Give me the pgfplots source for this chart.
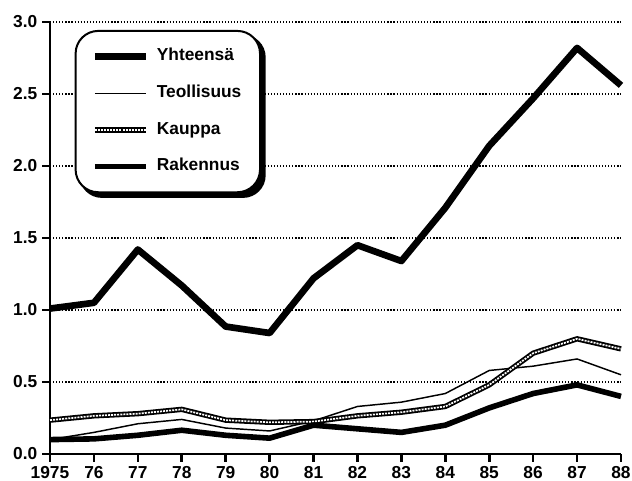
\documentclass[border=0pt]{standalone}
\usepackage{fontspec}
\setmainfont{Liberation Sans}
\usepackage{pgfplots}
\pgfplotsset{compat=1.18}
\usepackage{pgfplotstable}
\usetikzlibrary{calc}
\pgfdeclarelayer{background}
\pgfsetlayers{background,main}

\pgfplotstableread{
year yht teol kaup rak
1975 1.01 0.10 0.235 0.10
1976 1.05 0.15 0.265 0.105
1977 1.42 0.21 0.28 0.13
1978 1.17 0.24 0.31 0.165
1979 0.885 0.18 0.235 0.13
1980 0.84 0.16 0.22 0.11
1981 1.22 0.23 0.225 0.20
1982 1.45 0.33 0.265 0.175
1983 1.34 0.36 0.29 0.15
1984 1.71 0.42 0.33 0.20
1985 2.14 0.58 0.48 0.32
1986 2.47 0.61 0.70 0.42
1987 2.82 0.66 0.80 0.48
1988 2.56 0.55 0.73 0.40
}\data

\begin{document}
\begin{tikzpicture}
\begin{axis}[
  name=ax,
  scale only axis,
  width=428.25pt, height=324pt,
  xmin=1975, xmax=1988, ymin=0, ymax=3,
  axis lines=left,
  axis line style={-, line width=2pt},
  xtick={1975,...,1988},
  xticklabels={1975,76,77,78,79,80,81,82,83,84,85,86,87,88},
  ytick={0,0.5,...,3.0},
  yticklabel style={/pgf/number format/.cd, fixed, fixed zerofill, precision=1},
  /pgf/number format/assume math mode=true,
  tick align=outside,
  major tick length=6pt,
  tick style={line width=2pt, black},
  ticklabel style={font=\fontsize{13}{15}\selectfont\bfseries},
  ymajorgrids,
  grid style={black, line width=0.9pt, dash pattern=on 0.9pt off 1.4pt},
  clip=false,
  legend style={
    name=leg,
    at={(axis cs:1975.56,2.945)}, anchor=north west,
    draw=black, line width=1.5pt, rounded corners=17pt,
    fill=white,
    inner xsep=12pt, inner ysep=11pt,
    font=\fontsize{13}{15}\selectfont\bfseries,
    nodes={inner sep=2pt, text height=9.5pt, text depth=3pt},
    row sep=11pt, column sep=4pt,
  },
  legend cell align=left,
  legend image code/.code={\draw[#1] (0pt,0pt) -- (38pt,0pt);},
]
\addplot[black, line width=5pt, line join=round] table[x=year,y=yht] {\data};
\addlegendentry{Yhteensä}
\addplot[black, line width=1.1pt, line join=round] table[x=year,y=teol] {\data};
\addlegendentry{Teollisuus}
\addplot[black, line width=4pt, line join=round,
  postaction={draw, white, line width=1.3pt, dash pattern=on 1.5pt off 0.8pt}] table[x=year,y=kaup] {\data};
\addlegendentry{Kauppa}
\addplot[black, line width=4.2pt, line join=round] table[x=year,y=rak] {\data};
\addlegendentry{Rakennus}
\end{axis}
\begin{pgfonlayer}{background}
\fill[black, rounded corners=17pt] ($(leg.south west)+(3.5pt,-3.5pt)$) rectangle ($(leg.north east)+(3.5pt,-3.5pt)$);
\end{pgfonlayer}
\pgfresetboundingbox
\path[use as bounding box] ($(ax.south west)+(-37.5pt,-20.25pt)$) rectangle ($(ax.north east)+(8.25pt,16.5pt)$);
\end{tikzpicture}
\end{document}
